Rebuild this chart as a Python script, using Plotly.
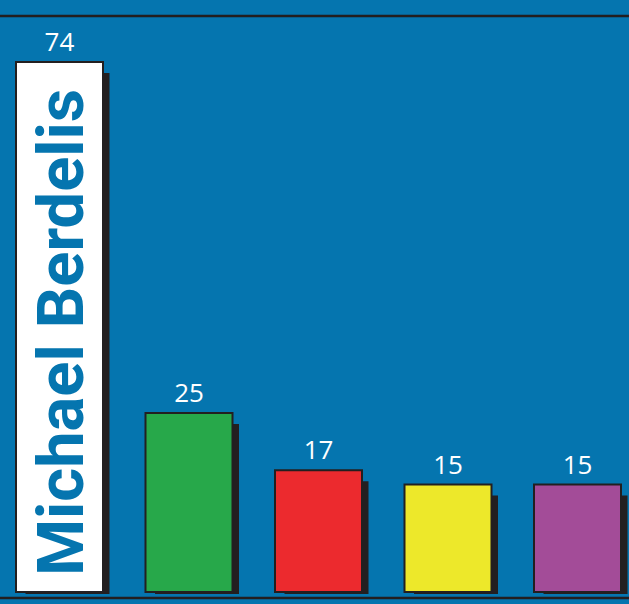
import plotly.graph_objects as go

# ---- data ----
categories = ["Michael Berdelis", "Candidate 2", "Candidate 3", "Candidate 4", "Candidate 5"]
values = [74, 25, 17, 15, 15]
bar_colors = ["#ffffff", "#27a84a", "#ec2a2e", "#ede82a", "#a34c98"]
name_label = "Michael Berdelis"

BG = "#0575af"
DARK = "#231f20"

W, H = 629, 604
px_per_unit = 530 / 74.0          # vertical scale
base_px = 592                     # pixel row of value 0
pitch_px = 129.5
first_center_px = 59.5

x_pos = list(range(len(values)))
x_range = [-first_center_px / pitch_px, (W - first_center_px) / pitch_px]
y_range = [(base_px - H) / px_per_unit, base_px / px_per_unit]

bar_w = 87 / pitch_px
# shadow geometry (pixels -> data units)
sh_dx = 8 / pitch_px
sh_w = 84 / pitch_px
sh_top = 11 / px_per_unit
sh_bottom = 2 / px_per_unit

fig = go.Figure()

# shadows
fig.add_trace(go.Bar(
    x=[i + sh_dx for i in x_pos],
    y=[v - sh_top + sh_bottom for v in values],
    base=[-sh_bottom] * len(values),
    width=sh_w,
    marker=dict(color=DARK, line=dict(width=0)),
    hoverinfo="skip",
    showlegend=False,
))

# bars
fig.add_trace(go.Bar(
    x=x_pos,
    y=values,
    width=bar_w,
    marker=dict(color=bar_colors, line=dict(color=DARK, width=2)),
    text=[str(v) for v in values],
    textposition="outside",
    textfont=dict(family="Open Sans, sans-serif", size=26, color="#ffffff"),
    cliponaxis=False,
    showlegend=False,
))

# rotated name in first bar
fig.add_annotation(
    x=x_pos[0], y=values[0] * 0.49, xref="x", yref="y",
    text="<b>" + name_label + "</b>", textangle=-90, showarrow=False,
    xshift=2,
    font=dict(family="Roboto, sans-serif", size=65, color=BG),
)

# horizontal rules
fig.add_shape(type="line", xref="paper", yref="paper", x0=0, x1=1,
              y0=1 - 16 / H, y1=1 - 16 / H, line=dict(color=DARK, width=2.5))
fig.add_shape(type="line", xref="paper", yref="paper", x0=0, x1=1,
              y0=1 - 598 / H, y1=1 - 598 / H, line=dict(color=DARK, width=2.5))

fig.update_layout(
    width=W, height=H,
    margin=dict(l=0, r=0, t=0, b=0),
    paper_bgcolor=BG, plot_bgcolor=BG,
    barmode="overlay",
    xaxis=dict(range=x_range, visible=False, fixedrange=True),
    yaxis=dict(range=y_range, visible=False, fixedrange=True),
)

fig.write_html("out.html", post_script="document.body.style.margin='0';",
               config={"displayModeBar": False})
